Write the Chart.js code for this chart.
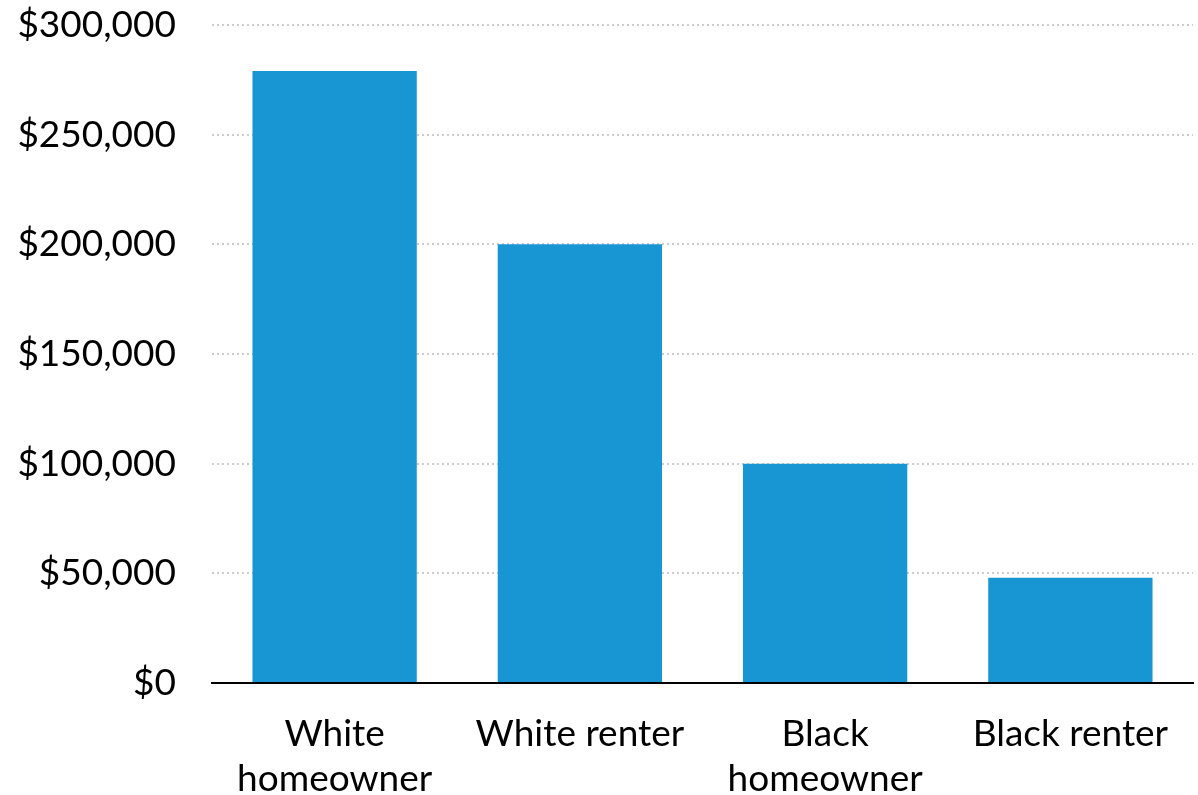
<!DOCTYPE html>
<html>
<head>
<meta charset="utf-8">
<script src="https://cdn.jsdelivr.net/npm/chart.js@4/dist/chart.umd.min.js"></script>
<style>
  html, body { margin: 0; padding: 0; background: #fff; }
  #wrap { width: 1198px; height: 795px; }
</style>
</head>
<body>
<div id="wrap"><canvas id="chart-wealth"></canvas></div>
<script>
const categories = [['White', 'homeowner'], 'White renter', ['Black', 'homeowner'], 'Black renter'];
const medianWealth = [279000, 200000, 100000, 48000];
const yTicks = [0, 50000, 100000, 150000, 200000, 250000, 300000];

const font = { family: 'Lato', size: 37 };

new Chart(document.getElementById('chart-wealth'), {
    type: 'bar',
    data: {
        labels: categories,
        datasets: [{
            data: medianWealth,
            backgroundColor: '#1896d3',
            borderWidth: 0,
            categoryPercentage: 1,
            barPercentage: 0.67
        }]
    },
    options: {
        responsive: true,
        maintainAspectRatio: false,
        animation: false,
        layout: { padding: { top: 25, right: 5, bottom: 0, left: 0 } },
        plugins: { legend: { display: false }, tooltip: { enabled: false } },
        scales: {
            x: {
                grid: { display: false },
                border: { display: true, color: '#000', width: 2 },
                ticks: { color: '#000', font: { ...font, lineHeight: 1.22 }, padding: 20, maxRotation: 0 },
                afterFit: (scale) => {
                    scale.height = 112;
                    scale.paddingTop = 0;
                }
            },
            y: {
                min: 0,
                max: 300000,
                afterBuildTicks: (scale) => { scale.ticks = yTicks.map(v => ({ value: v })); },
                grid: { color: '#cccccc', lineWidth: 2, drawTicks: false },
                border: { display: false, dash: [2, 3] },
                ticks: {
                    color: '#000',
                    font: font,
                    padding: 36,
                    callback: (v) => '$' + v.toLocaleString('en-US')
                },
                afterFit: (scale) => {
                    scale.width = 212;
                    scale.paddingTop = 0;
                    scale.paddingBottom = 0;
                }
            }
        }
    }
});
</script>
</body>
</html>
